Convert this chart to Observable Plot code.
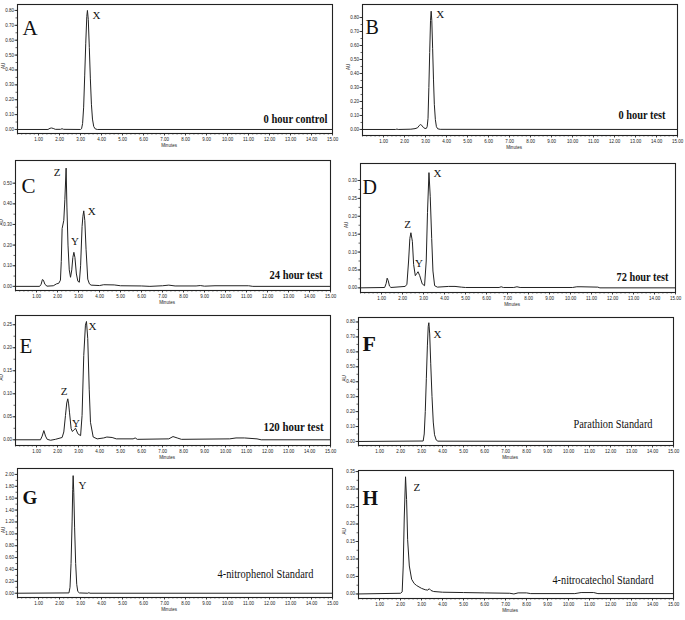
<!DOCTYPE html>
<html><head><meta charset="utf-8">
<script src="https://cdn.jsdelivr.net/npm/d3@7"></script>
<script src="https://cdn.jsdelivr.net/npm/@observablehq/plot@0.6"></script>
<style>
html,body{margin:0;padding:0;background:#fff;}
#chart{position:relative;width:685px;height:620px;overflow:hidden;background:#fff;}
#chart svg{position:absolute;overflow:visible;}
</style></head><body><div id="chart"></div>
<script>
// ---------- DATA ----------
const xTickLabels = [1,2,3,4,5,6,7,8,9,10,11,12,13,14,15]; // Minutes

const tA  = [0, 1.45, 1.55, 1.62, 1.7, 1.8, 2.05, 2.12, 2.2, 3.0, 3.05, 3.1, 3.15, 3.2, 3.25, 3.3, 3.33, 3.37, 3.42, 3.47, 3.52, 3.57, 3.63, 3.7, 3.8, 15];
const auA = [0, 0, 0.008, 0.010, 0.007, 0.001, 0.001, 0.005, 0.001, 0, 0.005, 0.04, 0.15, 0.36, 0.58, 0.76, 0.80, 0.74, 0.55, 0.34, 0.17, 0.07, 0.02, 0.004, 0, 0];

const tB  = [0, 1.58, 1.64, 1.7, 2.3, 2.5, 2.62, 2.7, 2.76, 2.82, 2.9, 2.98, 3.04, 3.08, 3.12, 3.16, 3.2, 3.24, 3.27, 3.3, 3.34, 3.38, 3.42, 3.47, 3.52, 3.58, 3.7, 15];
const auB = [0, 0, 0.003, 0, 0.002, 0.006, 0.012, 0.028, 0.035, 0.03, 0.014, 0.007, 0.008, 0.02, 0.08, 0.3, 0.55, 0.78, 0.845, 0.78, 0.58, 0.36, 0.18, 0.07, 0.02, 0.005, 0.001, 0];

const tC  = [0, 1.15, 1.22, 1.28, 1.33, 1.4, 1.5, 1.8, 1.95, 2.06, 2.14, 2.18, 2.22, 2.3, 2.35, 2.41, 2.45, 2.5, 2.56, 2.62, 2.68, 2.73, 2.78, 2.83, 2.9, 2.97, 3.04, 3.1, 3.17, 3.21, 3.25, 3.3, 3.36, 3.44, 3.52, 3.6, 4.0, 4.2, 4.7, 5.0, 6.0, 6.4, 7.0, 7.3, 7.6, 8.6, 8.8, 9.0, 9.5, 11.1, 11.3, 15];
const auC = [0, 0, 0.01, 0.033, 0.03, 0.01, 0.001, 0.003, 0.012, 0.015, 0.03, 0.12, 0.28, 0.32, 0.42, 0.573, 0.38, 0.2, 0.08, 0.044, 0.08, 0.14, 0.165, 0.14, 0.06, 0.025, 0.02, 0.1, 0.29, 0.34, 0.366, 0.32, 0.18, 0.035, 0.012, 0.006, 0.004, 0.008, 0.007, 0.003, 0.002, 0, 0.003, 0.006, 0.002, 0.002, 0.004, 0.001, 0.003, 0.003, 0, 0];

const tD  = [0, 1.15, 1.22, 1.27, 1.32, 1.38, 1.45, 2.13, 2.21, 2.29, 2.35, 2.4, 2.47, 2.53, 2.61, 2.68, 2.74, 2.82, 2.94, 3.05, 3.13, 3.19, 3.26, 3.32, 3.39, 3.45, 3.53, 3.66, 4.2, 4.5, 4.8, 5.0, 6.6, 6.7, 6.8, 7.3, 7.45, 7.6, 10.1, 10.3, 10.5, 11.3, 11.4, 15];
const auD = [0, 0.001, 0.012, 0.027, 0.02, 0.005, 0.001, 0.004, 0.01, 0.075, 0.138, 0.154, 0.13, 0.065, 0.034, 0.04, 0.045, 0.034, 0.011, 0.006, 0.075, 0.21, 0.322, 0.256, 0.138, 0.047, 0.006, 0.002, 0.004, 0.004, 0.002, 0.001, 0.001, 0.003, 0.001, 0.001, 0.003, 0.001, 0.001, 0.003, 0.003, 0.002, 0, 0];

const tE  = [0, 1.19, 1.27, 1.35, 1.43, 1.51, 1.67, 1.9, 2.22, 2.3, 2.38, 2.44, 2.49, 2.53, 2.57, 2.65, 2.71, 2.79, 2.86, 2.97, 3.1, 3.17, 3.25, 3.33, 3.38, 3.44, 3.51, 3.57, 3.7, 3.89, 4.2, 4.35, 4.6, 4.8, 5.6, 5.7, 5.8, 7.3, 7.5, 7.7, 7.9, 10.2, 10.5, 10.9, 11.5, 11.7, 15];
const auE = [0, 0, 0.008, 0.02, 0.008, 0.001, -0.001, 0.001, 0.005, 0.017, 0.053, 0.08, 0.089, 0.078, 0.06, 0.024, 0.018, 0.022, 0.025, 0.013, 0.009, 0.053, 0.183, 0.249, 0.257, 0.22, 0.11, 0.038, 0.006, 0.002, 0.004, 0.006, 0.005, 0.002, 0.002, 0.004, 0.001, 0.002, 0.007, 0.004, 0.001, 0.002, 0.004, 0.004, 0.002, 0, 0];

const tF  = [0, 3.08, 3.13, 3.18, 3.23, 3.28, 3.32, 3.35, 3.39, 3.44, 3.5, 3.56, 3.62, 3.7, 3.78, 15];
const auF = [0, 0.003, 0.05, 0.2, 0.42, 0.64, 0.77, 0.795, 0.72, 0.52, 0.3, 0.13, 0.045, 0.01, 0.002, 0];

const tG  = [0, 2.45, 2.5, 2.55, 2.6, 2.63, 2.65, 2.68, 2.72, 2.77, 2.82, 2.87, 2.95, 3.35, 3.4, 3.45, 15];
const auG = [0, 0.005, 0.1, 0.5, 1.2, 1.75, 1.98, 1.7, 1.1, 0.5, 0.15, 0.03, 0.005, 0, 0.01, 0, 0];

const tH  = [0, 2.0, 2.08, 2.13, 2.18, 2.24, 2.29, 2.34, 2.42, 2.53, 2.65, 2.77, 3.0, 3.18, 3.3, 3.37, 3.45, 3.58, 4.0, 5.0, 6.0, 7.2, 7.4, 7.6, 8.0, 8.2, 10.3, 10.6, 11.2, 11.4, 15];
const auH = [0, 0.002, 0.006, 0.08, 0.22, 0.335, 0.27, 0.155, 0.08, 0.042, 0.03, 0.024, 0.016, 0.012, 0.011, 0.015, 0.01, 0.007, 0.005, 0.004, 0.003, 0.002, 0, 0.003, 0.003, 0.001, 0.001, 0.004, 0.004, 0.001, 0.001];

// y tick labels per panel
const yTicksA = [0, 0.1, 0.2, 0.3, 0.4, 0.5, 0.6, 0.7, 0.8];
const yTicksB = [0, 0.1, 0.2, 0.3, 0.4, 0.5, 0.6, 0.7, 0.8];
const yTicksC = [0, 0.1, 0.2, 0.3, 0.4, 0.5];
const yTicksD = [0, 0.05, 0.1, 0.15, 0.2, 0.25, 0.3];
const yTicksE = [0, 0.05, 0.1, 0.15, 0.2, 0.25];
const yTicksF = [0, 0.1, 0.2, 0.3, 0.4, 0.5, 0.6, 0.7, 0.8];
const yTicksG = [0, 0.2, 0.4, 0.6, 0.8, 1.0, 1.2, 1.4, 1.6, 1.8, 2.0];
const yTicksH = [0, 0.05, 0.1, 0.15, 0.2, 0.25, 0.3, 0.35];

// peak labels (name, retention time, height)
const peakNamesA = ["X"], peakTimesA = [3.33], peakAuA = [0.80];
const peakNamesB = ["X"], peakTimesB = [3.27], peakAuB = [0.845];
const peakNamesC = ["Z", "Y", "X"], peakTimesC = [2.41, 2.78, 3.25], peakAuC = [0.573, 0.165, 0.366];
const peakNamesD = ["Z", "Y", "X"], peakTimesD = [2.40, 2.74, 3.26], peakAuD = [0.154, 0.045, 0.322];
const peakNamesE = ["Z", "Y", "X"], peakTimesE = [2.49, 2.86, 3.38], peakAuE = [0.089, 0.025, 0.257];
const peakNamesF = ["X"], peakTimesF = [3.35], peakAuF = [0.795];
const peakNamesG = ["Y"], peakTimesG = [2.65], peakAuG = [1.98];
const peakNamesH = ["Z"], peakTimesH = [2.24], peakAuH = [0.335];

const panelLetters = ["A", "B", "C", "D", "E", "F", "G", "H"];
const sampleNames = ["0 hour control", "0 hour test", "24 hour test", "72 hour test", "120 hour test",
  "Parathion Standard", "4-nitrophenol Standard", "4-nitrocatechol Standard"];

// ---------- LAYOUT / STYLE ----------
const layout = [
  {frame:[17,4,332,133], yDomain:[-0.027,0.84], letter:{dx:5,dy:16,size:21,bold:false},
   sample:{dx:-5,dy:-14.7,size:12,bold:true,w:64}, peakOff:[[5,5,"start"]]},
  {frame:[362,4,677,135], yDomain:[-0.043,0.893], letter:{dx:3,dy:15,size:20,bold:false},
   sample:{dx:-12,dy:-20.7,size:12,bold:true,w:47}, peakOff:[[5,3,"start"]]},
  {frame:[15,160,330,290], yDomain:[-0.02,0.61], letter:{dx:6,dy:18,size:21,bold:false},
   sample:{dx:-8,dy:-15.7,size:12,bold:true,w:53}, peakOff:[[-5.6,4.7,"end"],[1,-10.7,"middle"],[4,1,"start"]]},
  {frame:[360,163,675,292], yDomain:[-0.013,0.3475], letter:{dx:2,dy:16,size:20,bold:false},
   sample:{dx:-7,dy:-15.7,size:12,bold:true,w:52}, peakOff:[[-3.4,-8.2,"middle"],[1,-8.2,"middle"],[4.5,1,"start"]]},
  {frame:[15,315,330,445], yDomain:[-0.0124,0.27], letter:{dx:4,dy:23,size:21,bold:false},
   sample:{dx:-7,dy:-18.7,size:12,bold:true,w:60}, peakOff:[[-3.8,-7.4,"middle"],[0.4,-5.3,"middle"],[2,5.4,"start"]]},
  {frame:[358,317,673,445], yDomain:[-0.027,0.83], letter:{dx:4,dy:18,size:22,bold:true},
   sample:{dx:-21,dy:-22,size:12.5,bold:false,w:79}, peakOff:[[4.6,11.8,"start"]]},
  {frame:[17,468,332,597], yDomain:[-0.072,2.10], letter:{dx:5,dy:22,size:19,bold:true},
   sample:{dx:-19,dy:-24,size:12.5,bold:false,w:96}, peakOff:[[5.4,9.9,"start"]]},
  {frame:[358,470,673,598], yDomain:[-0.013,0.353], letter:{dx:4,dy:20,size:20,bold:true},
   sample:{dx:-20,dy:-19,size:12.5,bold:false,w:101}, peakOff:[[8,10.2,"start"]]}
];

const series = [[tA,auA],[tB,auB],[tC,auC],[tD,auD],[tE,auE],[tF,auF],[tG,auG],[tH,auH]];
const yTicks = [yTicksA,yTicksB,yTicksC,yTicksD,yTicksE,yTicksF,yTicksG,yTicksH];
const peaks = [
  [peakNamesA,peakTimesA,peakAuA],[peakNamesB,peakTimesB,peakAuB],[peakNamesC,peakTimesC,peakAuC],
  [peakNamesD,peakTimesD,peakAuD],[peakNamesE,peakTimesE,peakAuE],[peakNamesF,peakTimesF,peakAuF],
  [peakNamesG,peakTimesG,peakAuG],[peakNamesH,peakTimesH,peakAuH]
];

const SERIF = "'Liberation Serif', 'Times New Roman', serif";
const SANS = "'Liberation Sans', Arial, sans-serif";
const mL = 18, mR = 4, mT = 2, mB = 20;
const minorX = d3.range(0, 75.5).map(k => k / 5);
const chart = document.getElementById("chart");

layout.forEach((L, i) => {
  const [x0, y0, x1, y1] = L.frame;
  const [t, au] = series[i];
  const rows = t.map((v, j) => ({t: v, au: au[j]}));
  const yt = yTicks[i];
  const step = yt[1] - yt[0];
  const minorY = d3.range(0, Math.round(yt[yt.length - 1] / step * 2) + 1).map(k => k * step / 2);
  const [pn, pt, pa] = peaks[i];
  const peakMarks = pn.map((name, j) => {
    const [dx, dy, anchor] = L.peakOff[j];
    return Plot.text([{name, t: pt[j], au: pa[j]}], {
      x: "t", y: "au", text: "name", dx, dy, textAnchor: anchor, lineAnchor: "middle",
      fontSize: 11, fontFamily: SERIF, fill: "#111"
    });
  });

  const svg = Plot.plot({
    width: (x1 - x0) + mL + mR,
    height: (y1 - y0) + mT + mB,
    marginLeft: mL, marginRight: mR, marginTop: mT, marginBottom: mB,
    style: {background: "transparent", fontFamily: SANS, color: "#222", overflow: "visible"},
    x: {domain: [0, 15]},
    y: {domain: L.yDomain},
    marks: [
      Plot.axisX(minorX, {tickSize: 1.5, tickFormat: () => "", label: null, strokeWidth: 0.7}),
      Plot.axisX(xTickLabels, {tickSize: 2.5, tickPadding: 2, tickFormat: d => d.toFixed(2), fontSize: 4.5, label: null, strokeWidth: 0.8}),
      Plot.axisY(minorY, {tickSize: 1.5, tickFormat: () => "", label: null, strokeWidth: 0.7}),
      Plot.axisY(yt, {tickSize: 2.5, tickPadding: 1, tickFormat: d => d.toFixed(2), fontSize: 4.5, label: null, strokeWidth: 0.8}),
      Plot.text(["AU"], {text: d => d, frameAnchor: "left", dx: -14, rotate: -90, fontSize: 4.5, fontFamily: SANS}),
      Plot.text(["Minutes"], {text: d => d, frameAnchor: "bottom", dx: -6, dy: 13.5, fontSize: 4.5, fontFamily: SANS}),
      Plot.line(rows, {x: "t", y: "au", stroke: "#222", strokeWidth: 1}),
      Plot.frame({stroke: "#222", strokeWidth: 1.1}),
      Plot.text([panelLetters[i]], {text: d => d, frameAnchor: "top-left", textAnchor: "start", lineAnchor: "top",
        dx: L.letter.dx, dy: L.letter.dy, fontSize: L.letter.size, fontFamily: SERIF,
        fontWeight: L.letter.bold ? "bold" : "normal", fill: "#111"}),
      Plot.text([sampleNames[i]], {text: d => d, frameAnchor: "bottom-right", textAnchor: "end", lineAnchor: "middle",
        dx: L.sample.dx, dy: L.sample.dy, fontSize: L.sample.size, fontFamily: SERIF,
        fontWeight: L.sample.bold ? "bold" : "normal", fill: "#111"}),
      ...peakMarks
    ]
  });
  svg.style.left = (x0 - mL) + "px";
  svg.style.top = (y0 - mT) + "px";
  chart.appendChild(svg);
  // condensed typeface look of the original sample captions
  svg.querySelectorAll("text").forEach(el => {
    if (el.textContent === sampleNames[i]) {
      el.setAttribute("textLength", L.sample.w);
      el.setAttribute("lengthAdjust", "spacingAndGlyphs");
    }
  });
});
</script></body></html>
